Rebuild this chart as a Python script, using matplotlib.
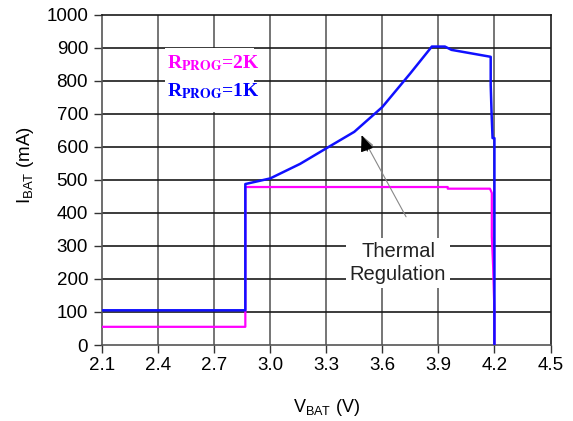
import matplotlib
matplotlib.use("Agg")
import matplotlib.pyplot as plt
from matplotlib.patches import Rectangle

# -----------------------------
# Data
# -----------------------------
# RPROG = 1K (blue)
v_1k = [2.1, 2.867, 2.867, 3.0, 3.16, 3.3, 3.45, 3.6, 3.75, 3.865, 3.935,
        3.97, 4.18, 4.18, 4.185, 4.19, 4.2, 4.2]
i_1k = [105, 105, 487, 504, 548, 595, 645, 720, 822, 903, 903,
        893, 872, 787, 696, 626, 626, 0]

# RPROG = 2K (magenta)
v_2k = [2.1, 2.867, 2.867, 3.95, 3.95, 4.176, 4.186, 4.186, 4.193, 4.2, 4.2]
i_2k = [55, 55, 478, 478, 473, 473, 460, 328, 237, 100, 0]

x_ticks = [2.1, 2.4, 2.7, 3.0, 3.3, 3.6, 3.9, 4.2, 4.5]
y_ticks = list(range(0, 1001, 100))

plt.rcParams["font.family"] = ["Liberation Sans", "DejaVu Sans"]
plt.rcParams["mathtext.fontset"] = "custom"
plt.rcParams["mathtext.rm"] = "Liberation Sans"
plt.rcParams["mathtext.it"] = "Liberation Sans"

fig = plt.figure(figsize=(5.73, 4.21), dpi=100)
ax = fig.add_axes([102 / 573, 1 - 345 / 421, 448.5 / 573, 330.5 / 421])

# grid
for x in x_ticks[1:-1]:
    ax.axvline(x, color="#6a6a6a", lw=1.3, zorder=1)
for y in y_ticks[1:-1]:
    ax.axhline(y, color="#1a1a1a", lw=1.2, zorder=1)

ax.plot(v_2k, i_2k, color="#ff00ff", lw=1.6, zorder=3)
ax.plot(v_1k, i_1k, color="#1010ff", lw=1.8, zorder=4)

ax.set_xlim(2.1, 4.5)
ax.set_ylim(0, 1000)
ax.set_xticks(x_ticks)
ax.set_xticklabels([f"{x:.1f}" for x in x_ticks])
ax.set_yticks(y_ticks)
ax.tick_params(axis="both", direction="out", length=6, width=1,
               color="#333333", labelsize=13.5, labelcolor="black")
ax.tick_params(axis="y", pad=4)
ax.tick_params(axis="x", pad=3)

for side in ["top", "right"]:
    ax.spines[side].set_color("#1a1a1a")
    ax.spines[side].set_linewidth(1.2)
for side in ["left", "bottom"]:
    ax.spines[side].set_color("#555555")
    ax.spines[side].set_linewidth(1.2)

ax.set_xlabel(r"V$_\mathrm{BAT}$ (V)", fontsize=13, labelpad=16)
ax.set_ylabel(r"I$_\mathrm{BAT}$ (mA)", fontsize=13.5)
ax.yaxis.set_label_coords(-0.148, 0.545)

# legend box (white patch behind the two labels)
ax.add_patch(Rectangle((2.437, 706), 0.476, 193, facecolor="white",
                       edgecolor="none", zorder=5))
legend_font = dict(family="Liberation Serif", weight="bold", size=14,
                   math_fontfamily="stix", va="center", ha="left", zorder=6)
ax.text(2.45, 854, r"R$_\mathbf{PROG}$=2K", color="#ff00ff", **legend_font)
ax.text(2.45, 768, r"R$_\mathbf{PROG}$=1K", color="#0000ff", **legend_font)

# thermal regulation note
ax.annotate("", xy=(3.489, 635), xytext=(3.727, 388),
            arrowprops=dict(arrowstyle="-|>,head_length=0.9,head_width=0.35",
                            color="#888888", lw=0.8, shrinkA=0, shrinkB=0),
            zorder=5)
ax.annotate("", xy=(3.489, 635), xytext=(3.52, 587),
            arrowprops=dict(arrowstyle="-|>,head_length=1.0,head_width=0.4",
                            color="black", lw=0.8, shrinkA=0, shrinkB=0),
            zorder=5)
ax.text(3.684, 248, "Thermal\nRegulation", fontsize=14.5, color="#222222",
        ha="center", va="center", linespacing=1.25, zorder=6,
        bbox=dict(facecolor="white", edgecolor="none", pad=3))

fig.savefig("out.png", dpi=100)
